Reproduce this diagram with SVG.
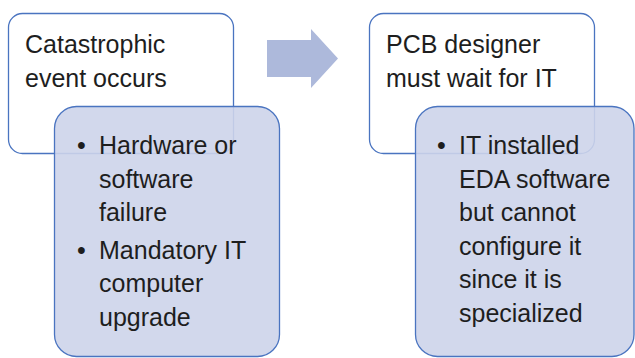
<svg xmlns="http://www.w3.org/2000/svg" width="635" height="358" viewBox="0 0 635 358">
<style>
.main{fill:#ffffff;stroke:#4a74c0;stroke-width:1.3}
.sub{fill:#cdd4ea;fill-opacity:0.9;stroke:#4a74c0;stroke-width:1.3}
.t{font-family:"Liberation Sans",Arial,sans-serif;font-size:25px;fill:#1e1e1e}
.arrow{fill:#adb9db}
</style>
<g id="connectors">
<path class="arrow" d="M267,40 L311,40 L311,29 L338,58.5 L311,88 L311,77 L267,77 Z"/>
</g>
<g id="node1">
<rect class="main" x="8.5" y="13.5" width="225" height="140" rx="14"/>
<text class="t" x="25" y="53">Catastrophic</text>
<text class="t" x="25" y="87">event occurs</text>
</g>
<g id="node1-detail">
<rect class="sub" x="54.5" y="106.5" width="225" height="250" rx="22"/>
<text class="t" x="77" y="154">•</text>
<text class="t" x="99" y="154">Hardware or</text>
<text class="t" x="99" y="187.5">software</text>
<text class="t" x="99" y="221">failure</text>
<text class="t" x="77" y="258.5">•</text>
<text class="t" x="99" y="258.5">Mandatory IT</text>
<text class="t" x="99" y="292">computer</text>
<text class="t" x="99" y="325.5">upgrade</text>
</g>
<g id="node2">
<rect class="main" x="369.5" y="13.5" width="225" height="140" rx="14"/>
<text class="t" x="386" y="53">PCB designer</text>
<text class="t" x="386" y="87">must wait for IT</text>
</g>
<g id="node2-detail">
<rect class="sub" x="415.5" y="106.5" width="218.5" height="250" rx="22"/>
<text class="t" x="437" y="154">•</text>
<text class="t" x="459" y="154">IT installed</text>
<text class="t" x="459" y="187.5">EDA software</text>
<text class="t" x="459" y="221">but cannot</text>
<text class="t" x="459" y="254.5">configure it</text>
<text class="t" x="459" y="288">since it is</text>
<text class="t" x="459" y="321.5">specialized</text>
</g>
</svg>
